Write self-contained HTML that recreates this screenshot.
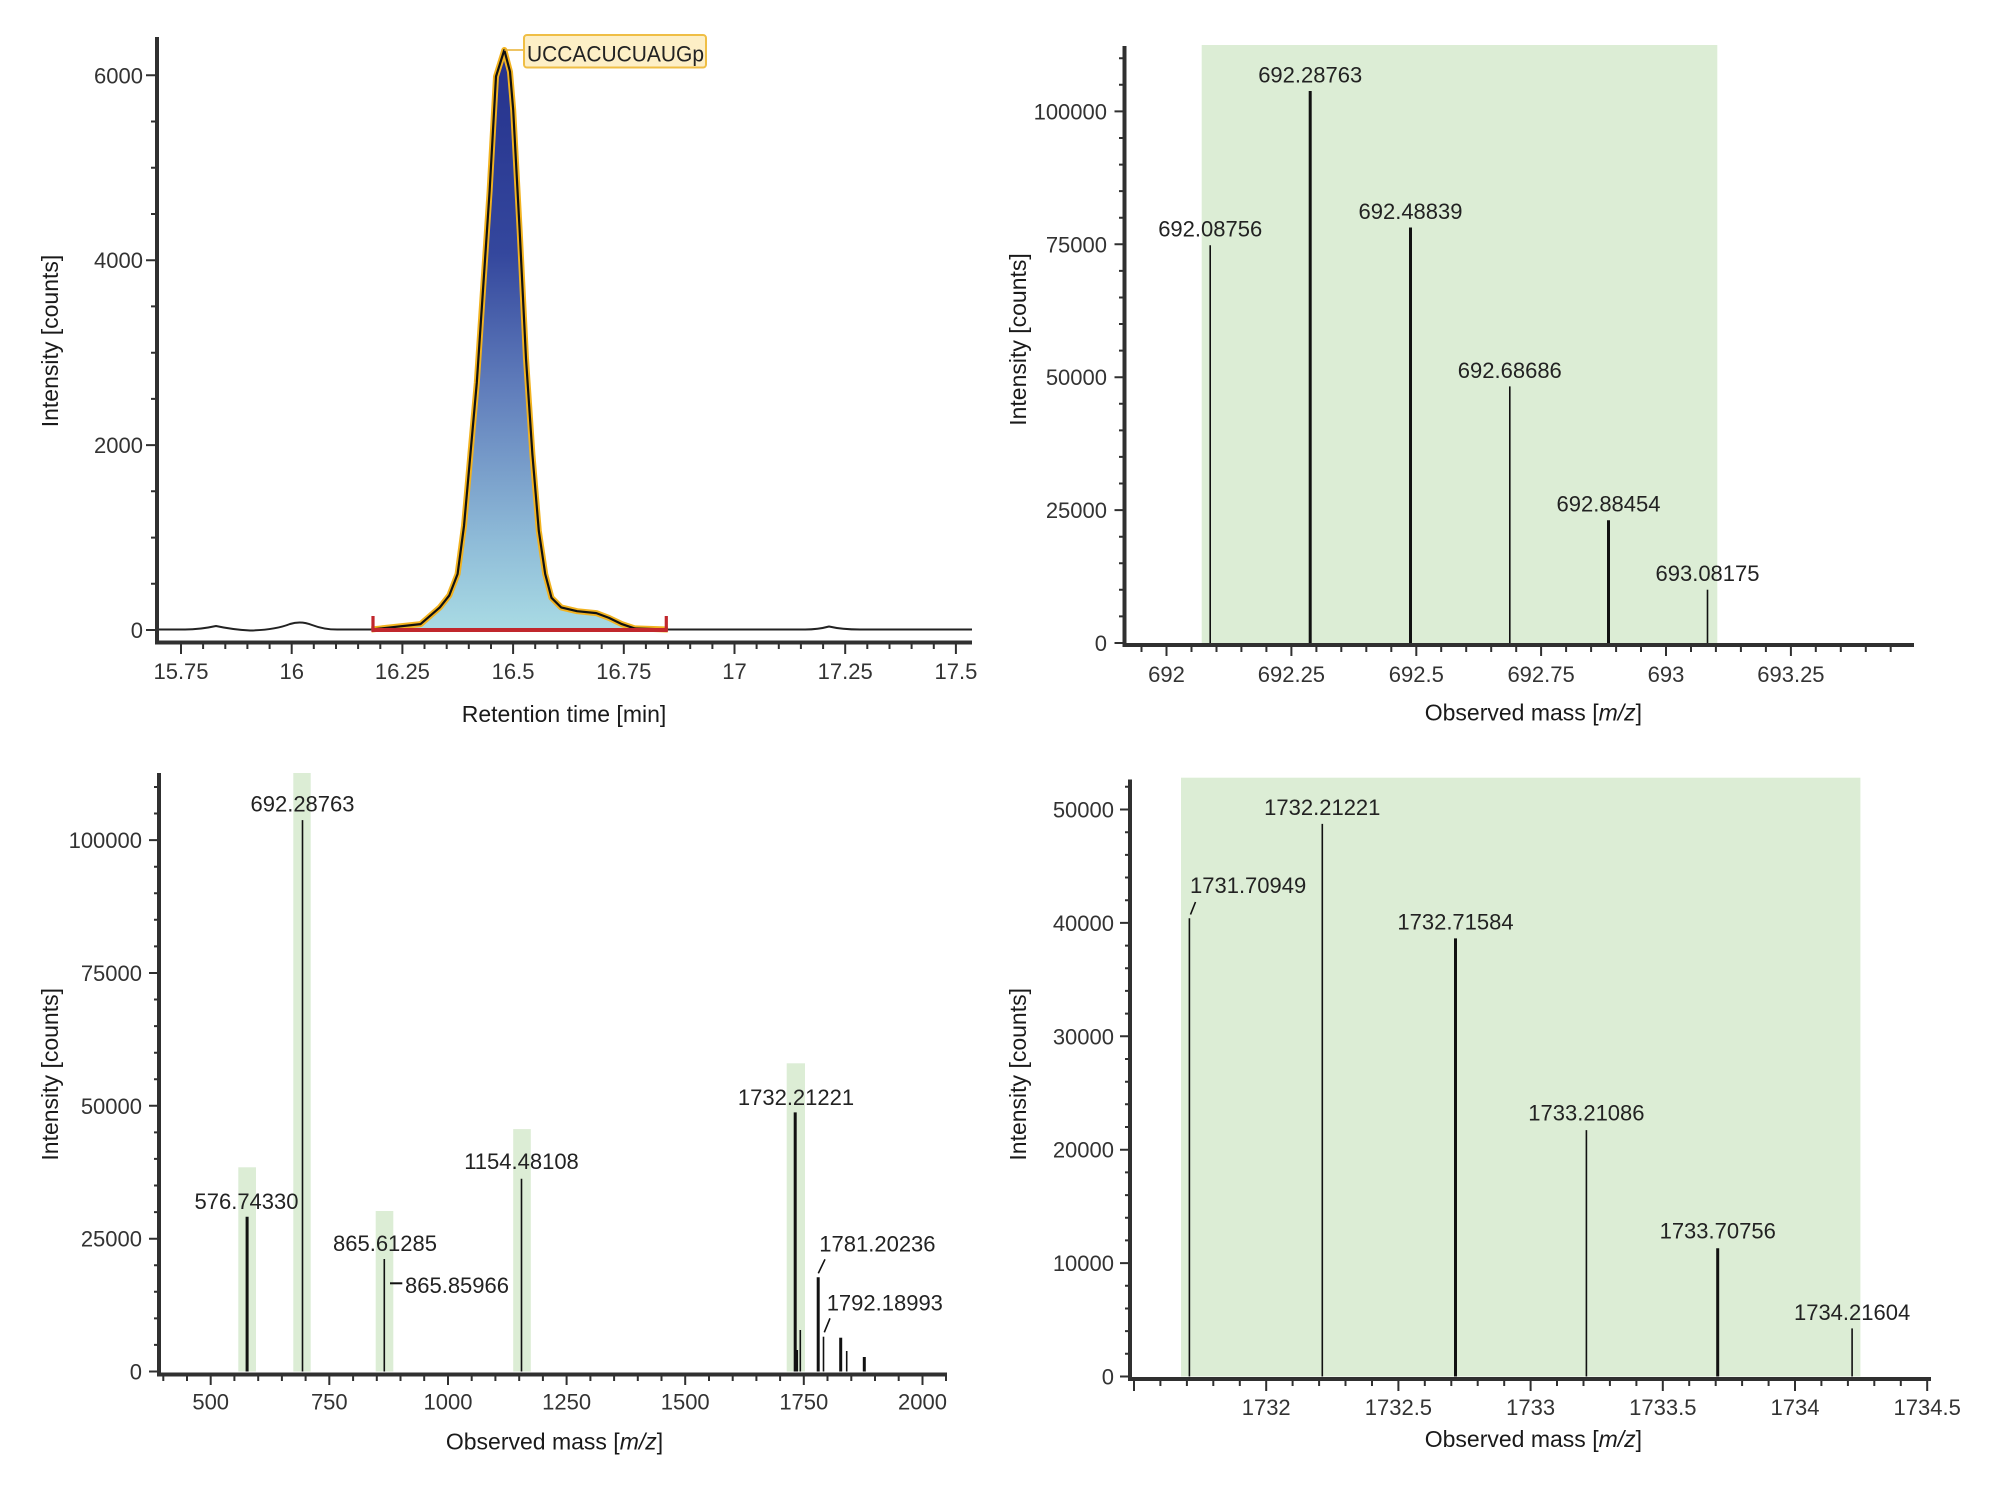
<!DOCTYPE html>
<html><head><meta charset="utf-8"><style>
html,body{margin:0;padding:0;background:#fff;}
svg{display:block;}
text{font-family:"Liberation Sans",Arial,sans-serif;}
.tl{font-size:22px;fill:#333;}
.pl{font-size:22px;fill:#222;}
.ti{font-size:23px;fill:#1a1a1a;}
</style></head><body>
<svg width="2000" height="1498" viewBox="0 0 2000 1498" xmlns="http://www.w3.org/2000/svg">
<defs>
<linearGradient id="pg" gradientUnits="userSpaceOnUse" x1="0" y1="50" x2="0" y2="630">
<stop offset="0" stop-color="#25318c"/>
<stop offset="0.35" stop-color="#34479d"/>
<stop offset="0.6" stop-color="#6381bd"/>
<stop offset="0.85" stop-color="#8fbcd8"/>
<stop offset="1" stop-color="#a9dbe4"/>
</linearGradient>
</defs>
<rect width="2000" height="1498" fill="#fff"/>

<!-- ============ PANEL 1 ============ -->
<path d="M371.4 629.5 L420.6 624.1 L439.8 607.4 L449.3 595.4 L457.6 574 L464 526 L470.4 454.3 L476.8 382.6 L483.2 287 L489.6 191.3 L496 76.5 L504.3 50 L510 71.7 L513.2 110 L519.6 229.6 L526 358.7 L532.4 454.3 L538.8 530.8 L545.2 574 L551.5 597.8 L561.1 607.4 L577.1 611.2 L596.3 613.1 L609 617.9 L621.8 624.1 L634.6 628.4 L667.8 629.5 Z" fill="url(#pg)"/>
<path d="M371.4 629.5 L420.6 624.1 L439.8 607.4 L449.3 595.4 L457.6 574 L464 526 L470.4 454.3 L476.8 382.6 L483.2 287 L489.6 191.3 L496 76.5 L504.3 50 L510 71.7 L513.2 110 L519.6 229.6 L526 358.7 L532.4 454.3 L538.8 530.8 L545.2 574 L551.5 597.8 L561.1 607.4 L577.1 611.2 L596.3 613.1 L609 617.9 L621.8 624.1 L634.6 628.4 L667.8 629.5" fill="none" stroke="#f2b320" stroke-width="6" stroke-linejoin="round"/>
<path d="M371.4 629.5 L420.6 624.1 L439.8 607.4 L449.3 595.4 L457.6 574 L464 526 L470.4 454.3 L476.8 382.6 L483.2 287 L489.6 191.3 L496 76.5 L504.3 50 L510 71.7 L513.2 110 L519.6 229.6 L526 358.7 L532.4 454.3 L538.8 530.8 L545.2 574 L551.5 597.8 L561.1 607.4 L577.1 611.2 L596.3 613.1 L609 617.9 L621.8 624.1 L634.6 628.4 L667.8 629.5" fill="none" stroke="#111" stroke-width="2.2" stroke-linejoin="round"/>
<!-- baseline -->
<path d="M157 629.5 L185 629.5 Q200 629.5 216 626 Q232 629.5 250 630.5 Q275 630 290 624 Q301 620.5 312 625 Q325 630 340 629.5 L371.4 629.5" fill="none" stroke="#222" stroke-width="2"/>
<path d="M667.8 629.5 L805 629.5 Q818 629.5 829 626.5 Q842 629.5 860 629.5 L972 629.5" fill="none" stroke="#222" stroke-width="2"/>
<!-- red integration bar -->
<line x1="371.4" y1="630" x2="667.8" y2="630" stroke="#c1272d" stroke-width="4"/>
<line x1="373" y1="616" x2="373" y2="631" stroke="#c1272d" stroke-width="3.2"/>
<line x1="666.3" y1="616" x2="666.3" y2="631" stroke="#c1272d" stroke-width="3.2"/>
<!-- label -->
<line x1="504.3" y1="50" x2="524" y2="50" stroke="#e8b030" stroke-width="1.5"/>
<rect x="524" y="35" width="182" height="32.5" rx="3" fill="#fdefc6" stroke="#efbe45" stroke-width="2"/>
<text x="527" y="61.5" class="pl" textLength="177" lengthAdjust="spacingAndGlyphs">UCCACUCUAUGp</text>
<!-- axes -->
<line x1="157" y1="37" x2="157" y2="644.5" stroke="#303030" stroke-width="4"/>
<line x1="155" y1="642.5" x2="972" y2="642.5" stroke="#303030" stroke-width="4"/>
<path d="M146 630H157M146 445.1H157M146 260.2H157M146 75.3H157" stroke="#303030" stroke-width="2"/>
<path d="M151 583.8H157M151 537.6H157M151 491.3H157M151 398.9H157M151 352.7H157M151 306.4H157M151 214H157M151 167.8H157M151 121.5H157" stroke="#303030" stroke-width="2"/>
<path d="M181 644V654M291.7 644V654M402.4 644V654M513.1 644V654M623.8 644V654M734.5 644V654M845.2 644V654M955.9 644V654" stroke="#303030" stroke-width="2"/>
<path d="M203.1 644V649M225.3 644V649M247.4 644V649M269.6 644V649M313.8 644V649M336 644V649M358.1 644V649M380.3 644V649M424.5 644V649M446.7 644V649M468.8 644V649M491 644V649M535.2 644V649M557.4 644V649M579.5 644V649M601.7 644V649M645.9 644V649M668.1 644V649M690.2 644V649M712.4 644V649M756.6 644V649M778.8 644V649M800.9 644V649M823.1 644V649M867.3 644V649M889.5 644V649M911.6 644V649M933.8 644V649" stroke="#303030" stroke-width="2"/>
<g class="tl" text-anchor="end">
<text x="143" y="638">0</text>
<text x="143" y="453.1">2000</text>
<text x="143" y="268.2">4000</text>
<text x="143" y="83.3">6000</text>
</g>
<g class="tl" text-anchor="middle">
<text x="181" y="679">15.75</text>
<text x="291.7" y="679">16</text>
<text x="402.4" y="679">16.25</text>
<text x="513.1" y="679">16.5</text>
<text x="623.8" y="679">16.75</text>
<text x="734.5" y="679">17</text>
<text x="845.2" y="679">17.25</text>
<text x="955.9" y="679">17.5</text>
</g>
<text class="ti" x="564" y="722" text-anchor="middle">Retention time [min]</text>
<text class="ti" transform="translate(50,341) rotate(-90)" text-anchor="middle" dominant-baseline="central">Intensity [counts]</text>

<!-- ============ PANEL 2 ============ -->
<rect x="1201.7" y="45" width="515.6" height="598" fill="#dcedd5"/>
<g stroke="#111">
<line x1="1210.2" y1="245.3" x2="1210.2" y2="643" stroke-width="1.6"/>
<line x1="1310.2" y1="91" x2="1310.2" y2="643" stroke-width="3"/>
<line x1="1410.5" y1="227.5" x2="1410.5" y2="643" stroke-width="3"/>
<line x1="1509.8" y1="386.4" x2="1509.8" y2="643" stroke-width="1.6"/>
<line x1="1608.5" y1="520.3" x2="1608.5" y2="643" stroke-width="3"/>
<line x1="1707.5" y1="589.7" x2="1707.5" y2="643" stroke-width="1.6"/>
</g>
<g class="pl" text-anchor="middle">
<text x="1210.2" y="236.7">692.08756</text>
<text x="1310.2" y="82.4">692.28763</text>
<text x="1410.5" y="218.9">692.48839</text>
<text x="1509.8" y="377.8">692.68686</text>
<text x="1608.5" y="511.7">692.88454</text>
<text x="1707.5" y="581.1">693.08175</text>
</g>
<line x1="1124.5" y1="46" x2="1124.5" y2="647" stroke="#303030" stroke-width="4"/>
<line x1="1122.5" y1="645" x2="1914" y2="645" stroke="#303030" stroke-width="4"/>
<path d="M1114.5 643H1124.5M1114.5 510.1H1124.5M1114.5 377.2H1124.5M1114.5 244.3H1124.5M1114.5 111.4H1124.5" stroke="#303030" stroke-width="2"/>
<path d="M1119 616.4H1124.5M1119 589.8H1124.5M1119 563.3H1124.5M1119 536.7H1124.5M1119 483.5H1124.5M1119 456.9H1124.5M1119 430.4H1124.5M1119 403.8H1124.5M1119 350.6H1124.5M1119 324H1124.5M1119 297.5H1124.5M1119 270.9H1124.5M1119 217.7H1124.5M1119 191.1H1124.5M1119 164.6H1124.5M1119 138H1124.5M1119 84.8H1124.5M1119 58.2H1124.5" stroke="#303030" stroke-width="2"/>
<path d="M1166.5 647V656M1291.4 647V656M1416.3 647V656M1541.1 647V656M1666 647V656M1790.9 647V656" stroke="#303030" stroke-width="2"/>
<path d="M1141.5 647V652M1191.5 647V652M1216.5 647V652M1241.4 647V652M1266.4 647V652M1316.4 647V652M1341.3 647V652M1366.3 647V652M1391.3 647V652M1441.2 647V652M1466.2 647V652M1491.2 647V652M1516.2 647V652M1566.1 647V652M1591.1 647V652M1616.1 647V652M1641 647V652M1691 647V652M1715.9 647V652M1740.9 647V652M1765.9 647V652M1815.8 647V652M1840.8 647V652M1865.8 647V652M1890.7 647V652" stroke="#303030" stroke-width="2"/>
<g class="tl" text-anchor="end">
<text x="1107" y="651">0</text>
<text x="1107" y="518.1">25000</text>
<text x="1107" y="385.2">50000</text>
<text x="1107" y="252.3">75000</text>
<text x="1107" y="119.4">100000</text>
</g>
<g class="tl" text-anchor="middle">
<text x="1166.5" y="682">692</text>
<text x="1291.4" y="682">692.25</text>
<text x="1416.3" y="682">692.5</text>
<text x="1541.1" y="682">692.75</text>
<text x="1666" y="682">693</text>
<text x="1790.9" y="682">693.25</text>
</g>
<text class="ti" x="1533.4" y="720.6" text-anchor="middle">Observed mass [<tspan font-style="italic">m/z</tspan>]</text>
<text class="ti" transform="translate(1018,339.5) rotate(-90)" text-anchor="middle" dominant-baseline="central">Intensity [counts]</text>

<!-- ============ PANEL 3 ============ -->
<g fill="#dcedd5">
<rect x="238.3" y="1167.3" width="17.7" height="204.2"/>
<rect x="293.3" y="773" width="17.4" height="598.5"/>
<rect x="375.7" y="1211" width="17.6" height="160.5"/>
<rect x="513.2" y="1129.1" width="17.6" height="242.4"/>
<rect x="786.7" y="1063.3" width="18.3" height="308.2"/>
</g>
<g stroke="#111">
<line x1="247.1" y1="1216.7" x2="247.1" y2="1371.5" stroke-width="3"/>
<line x1="302.5" y1="820.1" x2="302.5" y2="1371.5" stroke-width="1.6"/>
<line x1="384.3" y1="1259" x2="384.3" y2="1371.5" stroke-width="1.6"/>
<line x1="521.5" y1="1178.7" x2="521.5" y2="1371.5" stroke-width="1.6"/>
<line x1="795.2" y1="1112.4" x2="795.2" y2="1371.5" stroke-width="3"/>
<line x1="797.3" y1="1350" x2="797.3" y2="1371.5" stroke-width="1.6"/>
<line x1="800.3" y1="1330" x2="800.3" y2="1371.5" stroke-width="1.6"/>
<line x1="818.2" y1="1277.3" x2="818.2" y2="1371.5" stroke-width="3"/>
<line x1="823.5" y1="1336.7" x2="823.5" y2="1371.5" stroke-width="1.6"/>
<line x1="840.7" y1="1337.7" x2="840.7" y2="1371.5" stroke-width="3"/>
<line x1="846.7" y1="1351" x2="846.7" y2="1371.5" stroke-width="1.6"/>
<line x1="864.3" y1="1357" x2="864.3" y2="1371.5" stroke-width="3"/>
<line x1="390" y1="1283.3" x2="402.3" y2="1283.3" stroke-width="2"/>
<line x1="818.3" y1="1273.3" x2="825" y2="1259.3" stroke-width="1.6"/>
<line x1="824.3" y1="1332.3" x2="830" y2="1318.3" stroke-width="1.6"/>
</g>
<g class="pl" text-anchor="middle">
<text x="246.5" y="1209">576.74330</text>
<text x="302.5" y="811.4">692.28763</text>
<text x="385" y="1251">865.61285</text>
<text x="521.5" y="1169">1154.48108</text>
<text x="796" y="1105.2">1732.21221</text>
</g>
<g class="pl">
<text x="405" y="1293">865.85966</text>
<text x="819.3" y="1251.7">1781.20236</text>
<text x="826.7" y="1310.7">1792.18993</text>
</g>
<line x1="159" y1="773" x2="159" y2="1376.5" stroke="#303030" stroke-width="4"/>
<line x1="157" y1="1374.5" x2="947" y2="1374.5" stroke="#303030" stroke-width="4"/>
<path d="M149 1371.5H159M149 1238.7H159M149 1105.8H159M149 973H159M149 840.1H159" stroke="#303030" stroke-width="2"/>
<path d="M154 1344.9H159M154 1318.4H159M154 1291.8H159M154 1265.2H159M154 1212.1H159M154 1185.5H159M154 1158.9H159M154 1132.4H159M154 1079.2H159M154 1052.7H159M154 1026.1H159M154 999.5H159M154 946.4H159M154 919.8H159M154 893.2H159M154 866.7H159M154 813.5H159M154 787H159" stroke="#303030" stroke-width="2"/>
<path d="M210.7 1376.5V1385M329.3 1376.5V1385M448 1376.5V1385M566.6 1376.5V1385M685.2 1376.5V1385M803.8 1376.5V1385M922.5 1376.5V1385" stroke="#303030" stroke-width="2"/>
<path d="M163.3 1376.5V1381M187 1376.5V1381M234.4 1376.5V1381M258.2 1376.5V1381M281.9 1376.5V1381M305.6 1376.5V1381M353.1 1376.5V1381M376.8 1376.5V1381M400.5 1376.5V1381M424.2 1376.5V1381M471.7 1376.5V1381M495.4 1376.5V1381M519.2 1376.5V1381M542.9 1376.5V1381M590.4 1376.5V1381M614.1 1376.5V1381M637.8 1376.5V1381M661.5 1376.5V1381M709 1376.5V1381M732.7 1376.5V1381M756.4 1376.5V1381M780.1 1376.5V1381M827.5 1376.5V1381M851.3 1376.5V1381M875 1376.5V1381M898.7 1376.5V1381M946 1376.5V1381" stroke="#303030" stroke-width="2"/>
<g class="tl" text-anchor="end">
<text x="142" y="1379.5">0</text>
<text x="142" y="1246.7">25000</text>
<text x="142" y="1113.8">50000</text>
<text x="142" y="981">75000</text>
<text x="142" y="848.1">100000</text>
</g>
<g class="tl" text-anchor="middle">
<text x="210.7" y="1409.7">500</text>
<text x="329.3" y="1409.7">750</text>
<text x="448" y="1409.7">1000</text>
<text x="566.6" y="1409.7">1250</text>
<text x="685.2" y="1409.7">1500</text>
<text x="803.8" y="1409.7">1750</text>
<text x="922.5" y="1409.7">2000</text>
</g>
<text class="ti" x="554.5" y="1449.5" text-anchor="middle">Observed mass [<tspan font-style="italic">m/z</tspan>]</text>
<text class="ti" transform="translate(50,1074.3) rotate(-90)" text-anchor="middle" dominant-baseline="central">Intensity [counts]</text>

<!-- ============ PANEL 4 ============ -->
<rect x="1181" y="777.7" width="679.4" height="598.8" fill="#dcedd5"/>
<g stroke="#111">
<line x1="1189.4" y1="918.3" x2="1189.4" y2="1376.5" stroke-width="1.6"/>
<line x1="1322.3" y1="823.9" x2="1322.3" y2="1376.5" stroke-width="1.6"/>
<line x1="1455.5" y1="938.4" x2="1455.5" y2="1376.5" stroke-width="3"/>
<line x1="1586.4" y1="1130.1" x2="1586.4" y2="1376.5" stroke-width="1.6"/>
<line x1="1717.7" y1="1248.3" x2="1717.7" y2="1376.5" stroke-width="3"/>
<line x1="1852.1" y1="1328.4" x2="1852.1" y2="1376.5" stroke-width="1.6"/>
<line x1="1190.5" y1="914.5" x2="1195.5" y2="902" stroke-width="1.6"/>
</g>
<text class="pl" x="1190" y="893">1731.70949</text>
<g class="pl" text-anchor="middle">
<text x="1322.3" y="815.2">1732.21221</text>
<text x="1455.5" y="929.7">1732.71584</text>
<text x="1586.4" y="1120.4">1733.21086</text>
<text x="1717.7" y="1238.7">1733.70756</text>
<text x="1852.1" y="1319.8">1734.21604</text>
</g>
<line x1="1130" y1="779.5" x2="1130" y2="1381" stroke="#303030" stroke-width="4"/>
<line x1="1128" y1="1379" x2="1931" y2="1379" stroke="#303030" stroke-width="4"/>
<path d="M1120 1376.5H1130M1120 1263.1H1130M1120 1149.7H1130M1120 1036.3H1130M1120 922.9H1130M1120 809.5H1130" stroke="#303030" stroke-width="2"/>
<path d="M1125 1353.8H1130M1125 1331.1H1130M1125 1308.5H1130M1125 1285.8H1130M1125 1240.4H1130M1125 1217.7H1130M1125 1195.1H1130M1125 1172.4H1130M1125 1127H1130M1125 1104.3H1130M1125 1081.7H1130M1125 1059H1130M1125 1013.6H1130M1125 990.9H1130M1125 968.3H1130M1125 945.6H1130M1125 900.2H1130M1125 877.5H1130M1125 854.9H1130M1125 832.2H1130M1125 786.8H1130" stroke="#303030" stroke-width="2"/>
<path d="M1134 1381V1391M1266.2 1381V1391M1398.4 1381V1391M1530.6 1381V1391M1662.8 1381V1391M1795 1381V1391M1927.2 1381V1391" stroke="#303030" stroke-width="2"/>
<path d="M1160.4 1381V1386M1186.9 1381V1386M1213.3 1381V1386M1239.8 1381V1386M1292.6 1381V1386M1319.1 1381V1386M1345.5 1381V1386M1372 1381V1386M1424.8 1381V1386M1451.3 1381V1386M1477.7 1381V1386M1504.2 1381V1386M1557 1381V1386M1583.5 1381V1386M1609.9 1381V1386M1636.4 1381V1386M1689.2 1381V1386M1715.7 1381V1386M1742.1 1381V1386M1768.6 1381V1386M1821.4 1381V1386M1847.9 1381V1386M1874.3 1381V1386M1900.8 1381V1386" stroke="#303030" stroke-width="2"/>
<g class="tl" text-anchor="end">
<text x="1114" y="1384.5">0</text>
<text x="1114" y="1271.1">10000</text>
<text x="1114" y="1157.7">20000</text>
<text x="1114" y="1044.3">30000</text>
<text x="1114" y="930.9">40000</text>
<text x="1114" y="817.5">50000</text>
</g>
<g class="tl" text-anchor="middle">
<text x="1266.2" y="1415">1732</text>
<text x="1398.4" y="1415">1732.5</text>
<text x="1530.6" y="1415">1733</text>
<text x="1662.8" y="1415">1733.5</text>
<text x="1795" y="1415">1734</text>
<text x="1927.2" y="1415">1734.5</text>
</g>
<text class="ti" x="1533.4" y="1447" text-anchor="middle">Observed mass [<tspan font-style="italic">m/z</tspan>]</text>
<text class="ti" transform="translate(1018,1074.3) rotate(-90)" text-anchor="middle" dominant-baseline="central">Intensity [counts]</text>
</svg>
</body></html>
